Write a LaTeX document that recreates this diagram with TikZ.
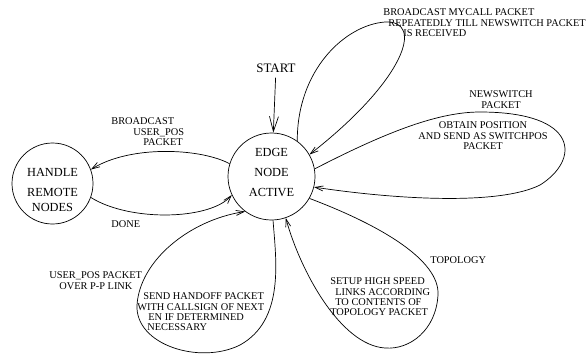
\documentclass[tikz,border=0pt]{standalone}
\usepackage{fontspec}
\setmainfont{Liberation Serif}
\usepackage{tikz}
\usetikzlibrary{arrows.meta}

\begin{document}
\begin{tikzpicture}[x=1bp, y=-1bp, line width=0.7bp,
    >={Straight Barb[length=8bp,width=5bp]},
    state/.style={draw, circle, align=center, inner sep=0pt, font=\fontsize{12.4}{15}\selectfont},
    lbl/.style={align=left, inner sep=0pt, anchor=north west, font=\fontsize{10.4}{10.3}\selectfont}]
      \useasboundingbox (0,0) rectangle (587,353);

      \node[state, minimum size=87bp]  (E)   at (271.5, 176.5)  {EDGE \\[5bp] NODE \\[5bp] ACTIVE \\[-6bp] \mbox{}};
      \node[state, minimum size=81bp]  (H)   at ( 52.5, 183.5)  {\mbox{} \\[6.2bp] HANDLE \\[5bp] REMOTE \\ NODES};
      \node[inner sep=0pt, font=\fontsize{13}{15}\selectfont] (S) at (276, 68) {START};

      \node[lbl]                       (MC)  at (383, 8.6)      {BROADCAST MYCALL PACKET \\ \hspace*{5bp}REPEATEDLY TILL NEWSWITCH PACKET \\ \hspace*{20bp}IS RECEIVED};
      \node[lbl, align=center, anchor=north] (NS) at (501, 90.6) {NEWSWITCH \\ PACKET};
      \node[lbl, align=center, anchor=north] (OP) at (483, 121.6) {OBTAIN POSITION \\ AND SEND AS SWITCHPOS \\ PACKET};
      \node[lbl]                       (BU)  at (111, 117.6)    {BROADCAST \\ \hspace*{22bp}USER\_POS \\ \hspace*{32bp}PACKET};
      \node[lbl]                       (DN)  at (111, 220.6)    {DONE};
      \node[lbl]                       (UP)  at ( 49, 271.6)    {USER\_POS PACKET \\ \hspace*{10bp}OVER P-P LINK};
      \node[lbl]                       (HO)  at (137, 292.6)    {\hspace*{6bp}SEND HANDOFF PACKET \\ WITH CALLSIGN OF NEXT \\ \hspace*{11bp}EN IF DETERMINED \\ \hspace*{10bp}NECESSARY};
      \node[lbl]                       (TP)  at (430, 256.6)    {TOPOLOGY};
      \node[lbl]                       (SU)  at (330, 277.6)    {SETUP HIGH SPEED \\ \hspace*{5bp}LINKS ACCORDING \\ \hspace*{5bp}TO CONTENTS OF \\ TOPOLOGY PACKET};

      \draw[-{Straight Barb[length=15bp,width=9bp]}, shorten <=5bp] (S) -- (E);

      % loops back into the edge node
      \draw[->] (E.54) .. controls (297,70) and (345,25) .. (385,22)
                       .. controls (425,20) and (405,80) .. (E.30);
      \draw[->] (E.10) .. controls (390,130) and (440,112) .. (480,112)
                       .. controls (580,112) and (580,160) .. (540,185)
                       .. controls (500,205) and (400,200) .. (E.-14);
      \draw[->] (E.-30) .. controls (380,225) and (440,260) .. (438,295)
                        .. controls (436,330) and (410,350) .. (385,348)
                        .. controls (340,345) and (300,270) .. (E.-71);
      \draw[->] (E.-88) .. controls (276,260) and (285,320) .. (240,345)
                        .. controls (200,365) and (135,345) .. (137,305)
                        .. controls (140,260) and (190,220) .. (E.-127);

      \draw[->] (E.163) .. controls (200,148) and (130,145) .. (H.20);
      \draw[->] (H.-20) .. controls (130,222) and (210,220) .. (E.-155);
    \end{tikzpicture}
\end{document}
